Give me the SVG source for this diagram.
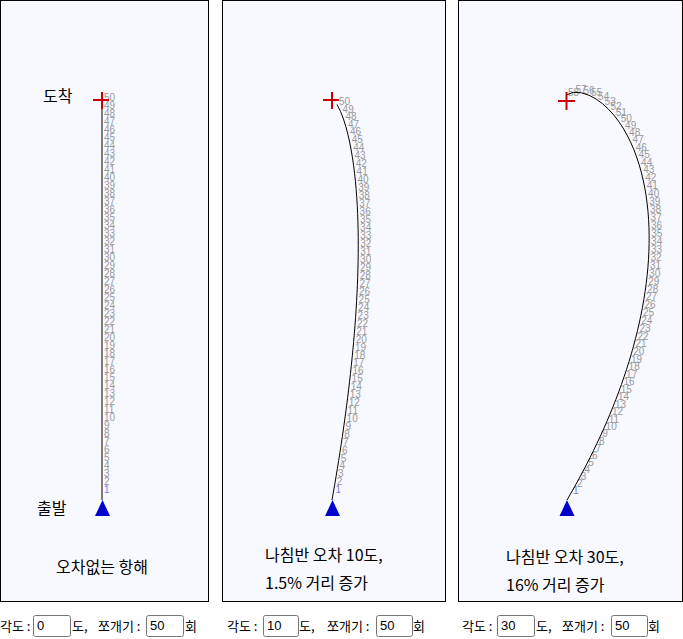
<svg xmlns="http://www.w3.org/2000/svg" width="683" height="639" viewBox="0 0 683 639">
<style>
.panel{fill:#f8f8ff;stroke:#000;stroke-width:1}
.path{fill:none;stroke:#000;stroke-width:1}
.cross{stroke:#cc0000;stroke-width:2;fill:none}
.tri{fill:#0000cc}
.n{font-family:"Liberation Sans",Arial,sans-serif;font-size:10px;fill:#999}
.n1{fill:#7777ee}
.k{font-family:"Noto Sans CJK KR","Noto Sans",sans-serif;font-size:16px;fill:#000}
.c{font-family:"Noto Sans CJK KR","Noto Sans",sans-serif;font-size:13px;fill:#000}
.inp{fill:#fff;stroke:#767676;stroke-width:1}
.iv{font-family:"Liberation Sans",Arial,sans-serif;font-size:13px;fill:#000}
</style>
<rect x="0" y="0" width="683" height="639" fill="#fff"/>

<g id="panel1">
<rect class="panel" x="0.5" y="0.5" width="208" height="601"/>
<text class="k" x="43" y="102">도착</text>
<text class="k" x="37" y="514">출발</text>
<text class="k" x="56" y="573">오차없는 항해</text>
<g id="nums1">
<text class="n n1" x="104" y="492.5">1</text><text class="n" x="104" y="484.5">2</text><text class="n" x="104" y="476.5">3</text><text class="n" x="104" y="468.5">4</text><text class="n" x="104" y="460.5">5</text><text class="n" x="104" y="452.5">6</text><text class="n" x="104" y="444.5">7</text><text class="n" x="104" y="436.5">8</text><text class="n" x="104" y="428.5">9</text><text class="n" x="104" y="420.5">10</text>
<text class="n" x="104" y="412.5">11</text><text class="n" x="104" y="404.5">12</text><text class="n" x="104" y="396.5">13</text><text class="n" x="104" y="388.5">14</text><text class="n" x="104" y="380.5">15</text><text class="n" x="104" y="372.5">16</text><text class="n" x="104" y="364.5">17</text><text class="n" x="104" y="356.5">18</text><text class="n" x="104" y="348.5">19</text><text class="n" x="104" y="340.5">20</text>
<text class="n" x="104" y="332.5">21</text><text class="n" x="104" y="324.5">22</text><text class="n" x="104" y="316.5">23</text><text class="n" x="104" y="308.5">24</text><text class="n" x="104" y="300.5">25</text><text class="n" x="104" y="292.5">26</text><text class="n" x="104" y="284.5">27</text><text class="n" x="104" y="276.5">28</text><text class="n" x="104" y="268.5">29</text><text class="n" x="104" y="260.5">30</text>
<text class="n" x="104" y="252.5">31</text><text class="n" x="104" y="244.5">32</text><text class="n" x="104" y="236.5">33</text><text class="n" x="104" y="228.5">34</text><text class="n" x="104" y="220.5">35</text><text class="n" x="104" y="212.5">36</text><text class="n" x="104" y="204.5">37</text><text class="n" x="104" y="196.5">38</text><text class="n" x="104" y="188.5">39</text><text class="n" x="104" y="180.5">40</text>
<text class="n" x="104" y="172.5">41</text><text class="n" x="104" y="164.5">42</text><text class="n" x="104" y="156.5">43</text><text class="n" x="104" y="148.5">44</text><text class="n" x="104" y="140.5">45</text><text class="n" x="104" y="132.5">46</text><text class="n" x="104" y="124.5">47</text><text class="n" x="104" y="116.5">48</text><text class="n" x="104" y="108.5">49</text><text class="n" x="104" y="100.5">50</text>
</g>
</g>

<g id="panel2">
<rect class="panel" x="222.5" y="0.5" width="223" height="601"/>
<text class="k" x="265" y="561">나침반 오차 10도,</text>
<text class="k" x="265" y="589">1.5% 거리 증가</text>
<g id="nums2">
<text class="n n1" x="335.4" y="493">1</text><text class="n" x="336.8" y="485.2">2</text><text class="n" x="338.1" y="477.4">3</text><text class="n" x="339.4" y="469.4">4</text><text class="n" x="340.7" y="461.6">5</text><text class="n" x="341.9" y="453.7">6</text><text class="n" x="343.1" y="445.7">7</text><text class="n" x="344.3" y="437.8">8</text><text class="n" x="345.4" y="429.9">9</text><text class="n" x="346.6" y="422">10</text>
<text class="n" x="347.6" y="414.1">11</text><text class="n" x="348.7" y="406.1">12</text><text class="n" x="349.7" y="398.2">13</text><text class="n" x="350.7" y="390.3">14</text><text class="n" x="351.6" y="382.3">15</text><text class="n" x="352.5" y="374.4">16</text><text class="n" x="353.3" y="366.4">17</text><text class="n" x="354.2" y="358.5">18</text><text class="n" x="354.9" y="350.5">19</text><text class="n" x="355.7" y="342.5">20</text>
<text class="n" x="356.3" y="334.6">21</text><text class="n" x="357" y="326.6">22</text><text class="n" x="357.6" y="318.6">23</text><text class="n" x="358.1" y="310.6">24</text><text class="n" x="358.6" y="302.6">25</text><text class="n" x="359" y="294.6">26</text><text class="n" x="359.4" y="286.7">27</text><text class="n" x="359.7" y="278.7">28</text><text class="n" x="359.9" y="270.7">29</text><text class="n" x="360.1" y="262.7">30</text>
<text class="n" x="360.2" y="254.7">31</text><text class="n" x="360.3" y="246.7">32</text><text class="n" x="360.2" y="238.7">33</text><text class="n" x="360.1" y="230.7">34</text><text class="n" x="359.9" y="222.7">35</text><text class="n" x="359.6" y="214.7">36</text><text class="n" x="359.3" y="206.7">37</text><text class="n" x="358.8" y="198.7">38</text><text class="n" x="358.2" y="190.7">39</text><text class="n" x="357.5" y="182.7">40</text>
<text class="n" x="356.6" y="174.8">41</text><text class="n" x="355.7" y="166.8">42</text><text class="n" x="354.5" y="158.9">43</text><text class="n" x="353.2" y="151.1">44</text><text class="n" x="351.7" y="143.2">45</text><text class="n" x="349.9" y="135.4">46</text><text class="n" x="347.9" y="127.7">47</text><text class="n" x="345.5" y="120">48</text><text class="n" x="342.6" y="112.6">49</text><text class="n" x="339" y="105.4">50</text>
</g>
</g>

<g id="panel3">
<rect class="panel" x="458.5" y="0.5" width="224" height="601"/>
<text class="k" x="506" y="563">나침반 오차 30도,</text>
<text class="k" x="506" y="591">16% 거리 증가</text>
<g id="nums3">
<text class="n n1" x="573" y="494.1">1</text><text class="n" x="576.9" y="487.1">2</text><text class="n" x="580.8" y="480.1">3</text><text class="n" x="584.6" y="473.1">4</text><text class="n" x="588.3" y="466">5</text><text class="n" x="591.9" y="458.8">6</text><text class="n" x="595.5" y="451.7">7</text><text class="n" x="598.9" y="444.5">8</text><text class="n" x="602.3" y="437.2">9</text><text class="n" x="605.6" y="429.9">10</text>
<text class="n" x="608.8" y="422.6">11</text><text class="n" x="611.9" y="415.2">12</text><text class="n" x="615" y="407.8">13</text><text class="n" x="617.9" y="400.4">14</text><text class="n" x="620.7" y="392.9">15</text><text class="n" x="623.5" y="385.4">16</text><text class="n" x="626.1" y="377.8">17</text><text class="n" x="628.6" y="370.2">18</text><text class="n" x="631" y="362.6">19</text><text class="n" x="633.3" y="354.9">20</text>
<text class="n" x="635.5" y="347.2">21</text><text class="n" x="637.5" y="339.5">22</text><text class="n" x="639.5" y="331.7">23</text><text class="n" x="641.3" y="323.9">24</text><text class="n" x="642.9" y="316.1">25</text><text class="n" x="644.5" y="308.3">26</text><text class="n" x="645.9" y="300.4">27</text><text class="n" x="647.1" y="292.5">28</text><text class="n" x="648.2" y="284.6">29</text><text class="n" x="649.1" y="276.6">30</text>
<text class="n" x="649.9" y="268.6">31</text><text class="n" x="650.5" y="260.7">32</text><text class="n" x="650.9" y="252.7">33</text><text class="n" x="651.1" y="244.7">34</text><text class="n" x="651.2" y="236.7">35</text><text class="n" x="651" y="228.7">36</text><text class="n" x="650.6" y="220.7">37</text><text class="n" x="650" y="212.7">38</text><text class="n" x="649.2" y="204.8">39</text><text class="n" x="648.1" y="196.8">40</text>
<text class="n" x="646.8" y="188.9">41</text><text class="n" x="645.2" y="181.1">42</text><text class="n" x="643.3" y="173.3">43</text><text class="n" x="641.1" y="165.6">44</text><text class="n" x="638.6" y="158">45</text><text class="n" x="635.8" y="150.5">46</text><text class="n" x="632.6" y="143.2">47</text><text class="n" x="629.1" y="136">48</text><text class="n" x="625.1" y="129.1">49</text><text class="n" x="620.7" y="122.4">50</text>
<text class="n" x="615.8" y="116.1">51</text><text class="n" x="610.5" y="110.1">52</text><text class="n" x="604.6" y="104.7">53</text><text class="n" x="598.1" y="100">54</text><text class="n" x="591" y="96.3">55</text><text class="n" x="583.4" y="93.8">56</text><text class="n" x="575.4" y="93.3">57</text><text class="n" x="567.9" y="96.1">58</text>
</g>
</g>

<g id="connectors">
<polyline id="route1" class="path" points="102,500 102,100"/>
<polyline id="route2" class="path" points="332,500 333.39,492.12 334.75,484.25 336.08,476.37 337.38,468.45 338.66,460.57 339.9,452.66 341.12,444.75 342.3,436.83 343.44,428.91 344.56,420.99 345.64,413.07 346.68,405.14 347.69,397.21 348.66,389.26 349.6,381.31 350.49,373.37 351.34,365.42 352.15,357.45 352.92,349.49 353.65,341.52 354.33,333.56 354.97,325.57 355.55,317.6 356.08,309.62 356.56,301.63 356.99,293.64 357.36,285.65 357.66,277.66 357.91,269.66 358.1,261.67 358.21,253.67 358.25,245.66 358.22,237.66 358.12,229.66 357.92,221.66 357.63,213.66 357.26,205.67 356.77,197.69 356.18,189.71 355.47,181.74 354.62,173.78 353.66,165.84 352.5,157.93 351.19,150.05 349.67,142.2 347.91,134.4 345.86,126.66 343.46,119.03 340.59,111.57 337,104.41"/>
<polyline id="route3" class="path" points="567,500 571,493.07 574.93,486.1 578.79,479.1 582.57,472.05 586.28,464.96 589.91,457.83 593.46,450.66 596.92,443.45 600.31,436.2 603.61,428.91 606.81,421.58 609.93,414.22 612.96,406.81 615.89,399.37 618.72,391.88 621.45,384.37 624.07,376.81 626.59,369.22 629.01,361.58 631.3,353.92 633.48,346.22 635.53,338.49 637.46,330.73 639.27,322.93 640.93,315.11 642.47,307.26 643.85,299.38 645.1,291.47 646.19,283.55 647.11,275.6 647.88,267.64 648.48,259.66 648.88,251.67 649.12,243.67 649.15,235.67 648.98,227.68 648.61,219.68 648,211.7 647.18,203.75 646.11,195.82 644.79,187.92 643.18,180.1 641.32,172.31 639.14,164.61 636.63,157.02 633.81,149.54 630.64,142.19 627.07,135.03 623.1,128.08 618.7,121.4 613.82,115.06 608.45,109.13 602.55,103.73 596.08,99.03 589.02,95.28 581.41,92.82 573.41,92.32 565.9,95.07"/>
</g>

<g id="markers">
<path class="cross" d="M93 100H109M102 92V109"/>
<path class="cross" d="M323 100H339M332 92V109"/>
<path class="cross" d="M558 101H575M566.5 92V110"/>
<path class="tri" d="M102.5 500L110 516H95Z"/>
<path class="tri" d="M332.5 500L340 516H325Z"/>
<path class="tri" d="M567 500L574.5 516H559.5Z"/>
</g>

<g id="controls">
<text class="c" x="0" y="631">각도 :</text>
<rect class="inp" x="33.5" y="615.5" width="37" height="21" rx="2"/>
<text class="iv" x="37" y="630">0</text>
<text class="c" x="72" y="631">도,</text>
<text class="c" x="98" y="631">쪼개기 :</text>
<rect class="inp" x="146.5" y="615.5" width="37" height="21" rx="2"/>
<text class="iv" x="150" y="630">50</text>
<text class="c" x="185" y="631">회</text>

<text class="c" x="227" y="631">각도 :</text>
<rect class="inp" x="263.5" y="615.5" width="35" height="21" rx="2"/>
<text class="iv" x="267" y="630">10</text>
<text class="c" x="299" y="631">도,</text>
<text class="c" x="327" y="631">쪼개기 :</text>
<rect class="inp" x="376.5" y="615.5" width="36" height="21" rx="2"/>
<text class="iv" x="380" y="630">50</text>
<text class="c" x="413" y="631">회</text>

<text class="c" x="462" y="631">각도 :</text>
<rect class="inp" x="497.5" y="615.5" width="37" height="21" rx="2"/>
<text class="iv" x="501" y="630">30</text>
<text class="c" x="536" y="631">도,</text>
<text class="c" x="562" y="631">쪼개기 :</text>
<rect class="inp" x="611.5" y="615.5" width="36" height="21" rx="2"/>
<text class="iv" x="615" y="630">50</text>
<text class="c" x="648" y="631">회</text>
</g>
</svg>
